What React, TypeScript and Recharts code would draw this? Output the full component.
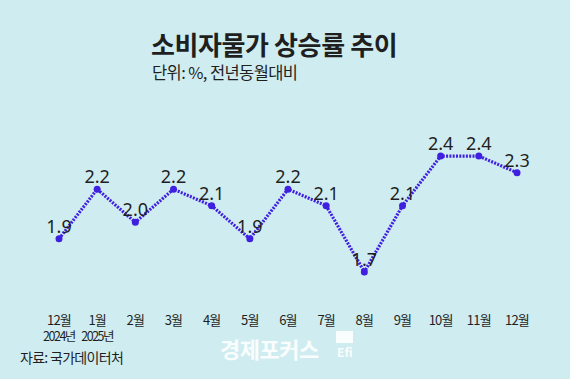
import { LineChart, Line, XAxis, YAxis } from "recharts";

const months = ["12월", "1월", "2월", "3월", "4월", "5월", "6월", "7월", "8월", "9월", "10월", "11월", "12월"];
const years = ["2024년", "2025년", "", "", "", "", "", "", "", "", "", "", ""];
const cpi = [1.9, 2.2, 2.0, 2.2, 2.1, 1.9, 2.2, 2.1, 1.7, 2.1, 2.4, 2.4, 2.3];

const data = months.map((m, i) => ({ month: `${m}-${i}`, label: m, year: years[i], cpi: cpi[i] }));

const BG = "#cfedf0";
const LINE = "#3f1fe0";
const INK = "#1f1f1f";
const FONT = "'Noto Sans CJK KR', 'Noto Sans', sans-serif";

function MonthTick(props: any) {
  const { x, y, index } = props;
  const row = data[index];
  return (
    <g>
      <text x={x} y={y + 12} textAnchor="middle" fontSize={13} letterSpacing={-0.8} fill={INK} fontFamily={FONT}>
        {row.label}
      </text>
      {row.year && (
        <text x={x} y={y + 28} textAnchor="middle" fontSize={12.5} letterSpacing={-1.5} fill={INK} fontFamily={FONT}>
          {row.year}
        </text>
      )}
    </g>
  );
}

export default function App() {
  return (
    <div style={{ position: "absolute", left: 0, top: 0, width: 570, height: 379, background: BG, fontFamily: FONT }}>
      <LineChart width={570} height={379} data={data} margin={{ top: 123, right: 53, left: 59, bottom: 44 }}>
        <XAxis
          dataKey="month"
          axisLine={false}
          tickLine={false}
          interval={0}
          height={30}
          tick={<MonthTick />}
        />
        <YAxis hide domain={[1.5, 2.6]} />
        <Line
          type="linear"
          dataKey="cpi"
          stroke={LINE}
          strokeWidth={3.2}
          strokeDasharray="2 1.3"
          dot={{ r: 3.5, fill: LINE, stroke: "none", strokeDasharray: "0" }}
          activeDot={false}
          isAnimationActive={false}
          label={{
            position: "top",
            offset: 6,
            fill: INK,
            fontSize: 18,
            fontFamily: "'Noto Sans', sans-serif",
            formatter: (v: any) => Number(v).toFixed(1),
          }}
        />
      </LineChart>
      <svg width={570} height={379} style={{ position: "absolute", left: 0, top: 0, pointerEvents: "none" }}>
        <text x={151} y={55} fontSize={26} fontWeight={700} letterSpacing={-0.4} fill={INK} fontFamily={FONT}>
          소비자물가 상승률 추이
        </text>
        <text x={152} y={79} fontSize={16.5} letterSpacing={-0.6} fill={INK} fontFamily={FONT}>
          단위: %, 전년동월대비
        </text>
        <text x={20} y={363} fontSize={14} letterSpacing={-0.7} fill={INK} fontFamily={FONT}>
          자료: 국가데이터처
        </text>
        <g opacity={0.9}>
          <text x={220} y={358} fontSize={22} fontWeight={700} letterSpacing={-0.5} fill="#ffffff" fontFamily={FONT}>
            경제포커스
          </text>
          <rect x={336} y={331} width={17} height={12} fill="#ffffff" />
          <text x={337} y={357} fontSize={12} fontWeight={700} fill="#ffffff" fontFamily={FONT}>
            Efi
          </text>
        </g>
      </svg>
    </div>
  );
}
